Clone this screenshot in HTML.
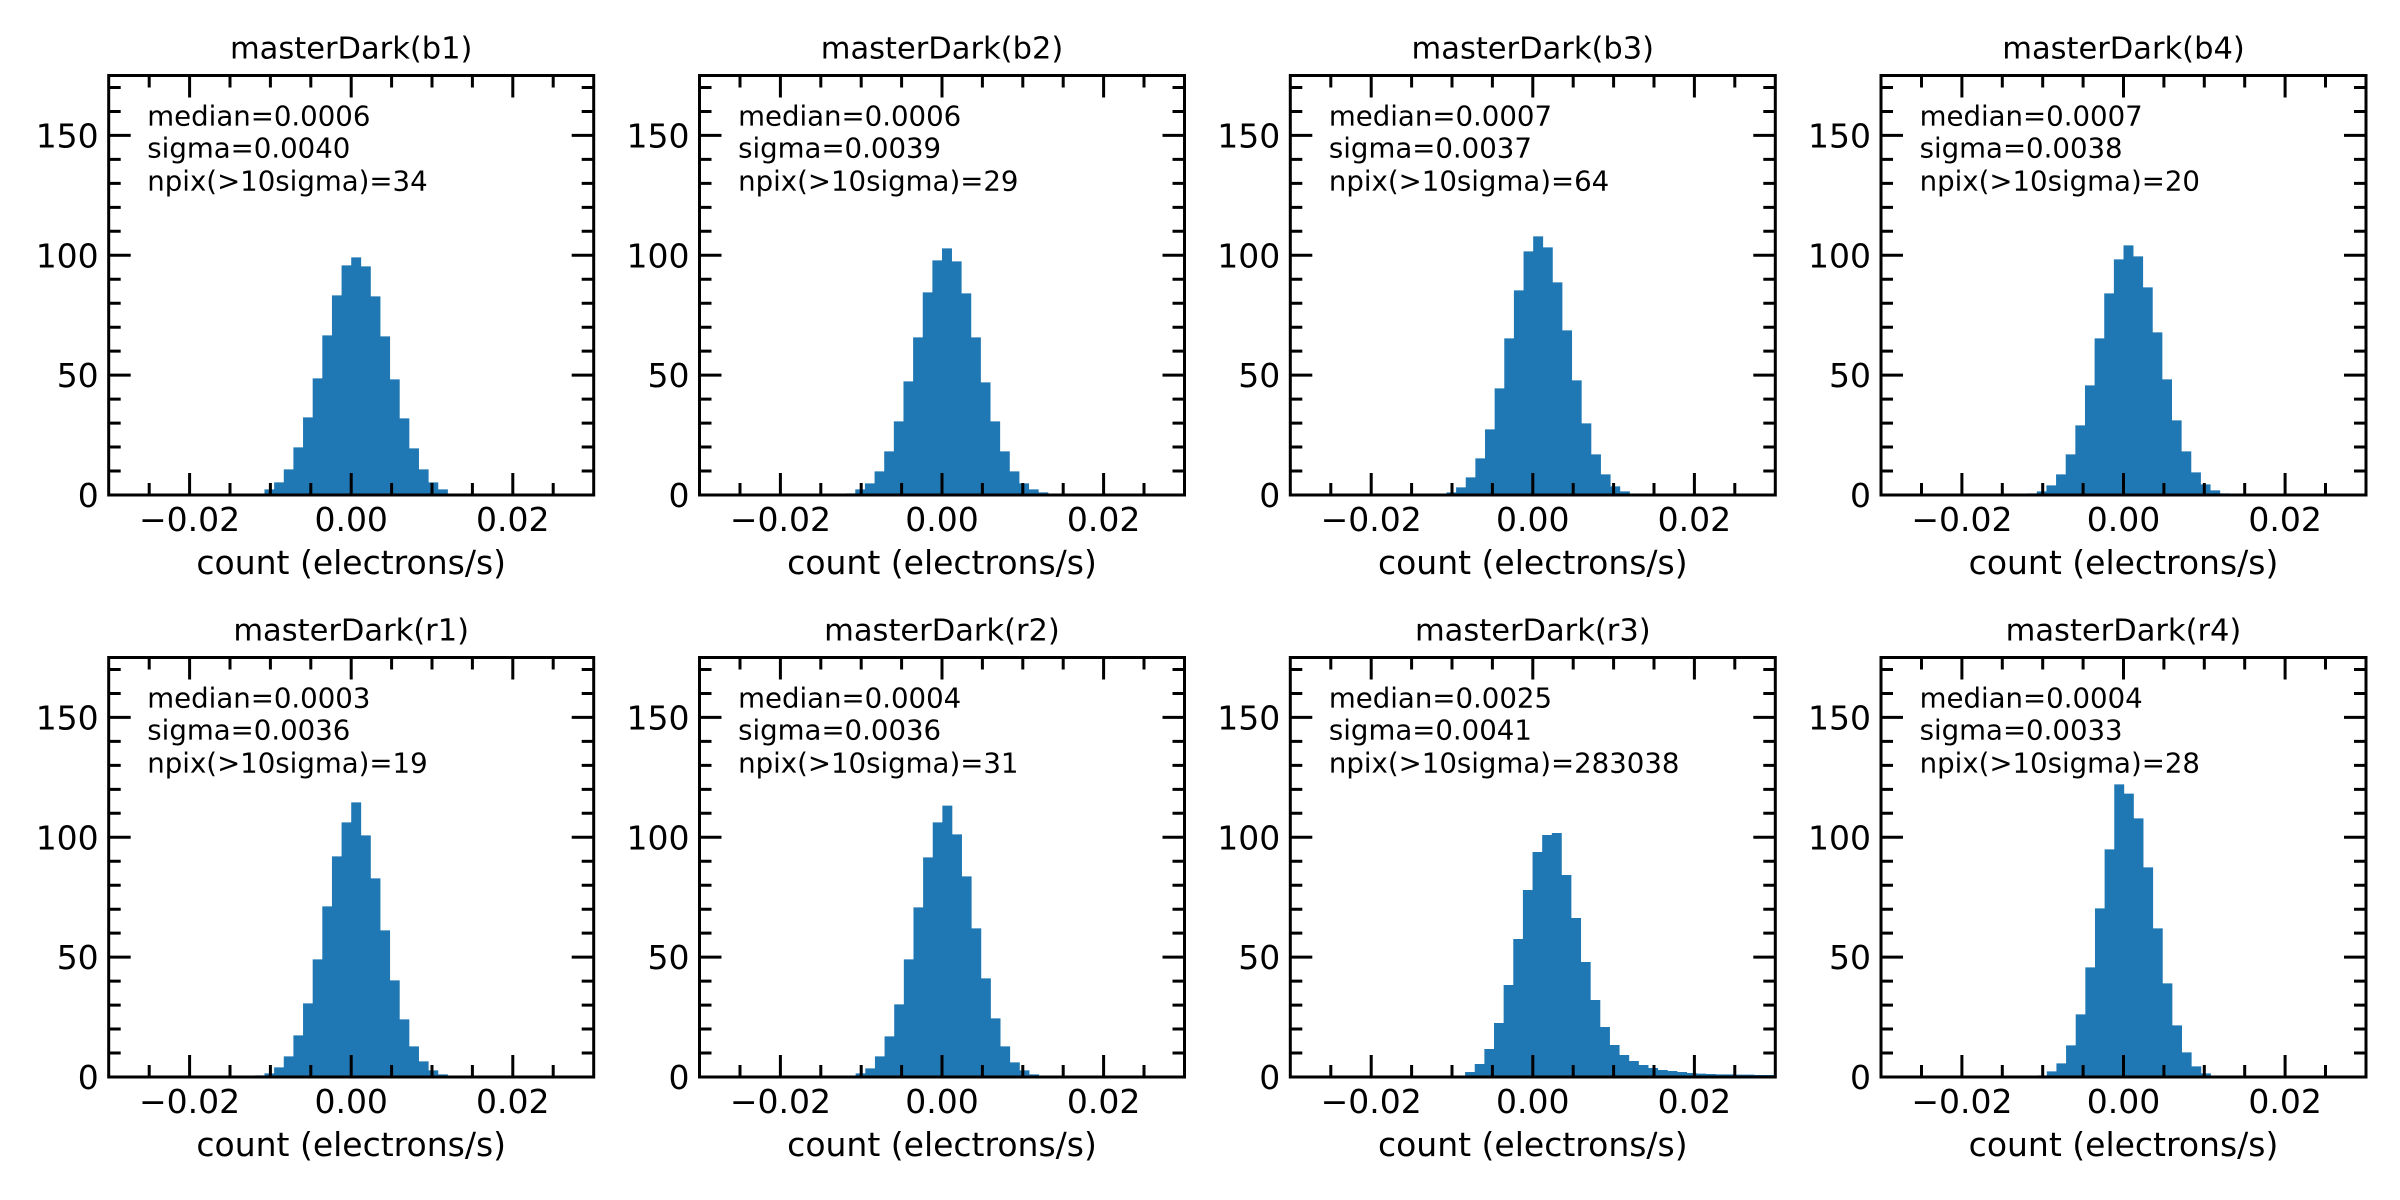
<!DOCTYPE html>
<html><head><meta charset="utf-8">
<style>
html,body{margin:0;padding:0;background:#fff;}
svg{display:block;}
text{font-family:"DejaVu Sans","Liberation Sans",sans-serif;fill:#000;}
</style></head>
<body>
<svg id="s" xmlns="http://www.w3.org/2000/svg" width="2400" height="1200" viewBox="0 0 2400 1200"></svg>
<script>
var NS="http://www.w3.org/2000/svg";
var svg=document.getElementById('s');
function el(t,a,txt){var e=document.createElementNS(NS,t);for(var k in a)e.setAttribute(k,a[k]);if(txt!==undefined)e.textContent=txt;svg.appendChild(e);return e;}
var lefts=[108.7,699.5,1290.3,1881];
var rows=[{top:75.5,bot:495},{top:657.5,bot:1077}];
var W=485,H=419.5,PX=8080,PY=H/175;
var panels=[
 {t:"masterDark(b1)",m:"0.0006",s:"0.0040",n:"34",st:72,z:361,h:[4,17,38,77,143,233,350,479,599,689,713,686,596,476,347,230,140,77,38,17,4]},
 {t:"masterDark(b2)",m:"0.0006",s:"0.0039",n:"29",st:75,z:364,h:[5,17,35,71,131,221,341,473,608,704,740,701,605,473,338,221,131,71,35,17,8]},
 {t:"masterDark(b3)",m:"0.0007",s:"0.0037",n:"64",st:105,z:364,h:[8,23,53,110,197,320,470,614,731,776,743,638,494,344,215,122,62,26,11]},
 {t:"masterDark(b4)",m:"0.0007",s:"0.0038",n:"20",st:75,z:364,h:[5,11,29,62,122,209,329,470,605,707,749,716,623,488,347,224,131,68,32,14,5]},
 {t:"masterDark(r1)",m:"0.0003",s:"0.0036",n:"19",st:72,z:361,h:[5,11,29,62,125,221,353,512,662,764,824,725,596,440,290,173,92,47,20,8]},
 {t:"masterDark(r2)",m:"0.0004",s:"0.0036",n:"31",st:105,z:364,h:[11,26,62,122,218,353,509,659,764,814,728,602,446,296,176,92,44,20,8]},
 {t:"masterDark(r3)",m:"0.0025",s:"0.0041",n:"283038",st:45,z:277,h:[3,15,39,84,162,276,414,561,675,726,732,606,477,345,231,150,96,66,48,36,27,21,18,15,12,10,9,8,8,7,7,6,6,6,6,6,6,6]},
 {t:"masterDark(r4)",m:"0.0004",s:"0.0033",n:"28",st:105,z:364,h:[5,17,41,95,188,329,506,683,878,850,776,629,446,281,155,74,32,11]}
];
var BW=9.635;
panels.forEach(function(p,i){
 var L=lefts[i%4],R=rows[Math.floor(i/4)],T=R.top,B=R.bot;
 var x0=L+W/2;
 var sx=x0+(p.st-p.z)/3, d="";
 p.h.forEach(function(h,j){var hh=h/3;var x=sx+j*BW;var w=BW+0.3;if(x>=L+W)return;if(x+w>L+W)w=L+W-x;d+="M"+x.toFixed(2)+" "+B+"h"+w.toFixed(2)+"v"+(-hh).toFixed(2)+"h"+(-w).toFixed(2)+"z";});
 el('path',{d:d,fill:'#1f77b4'});
 var t="";
 for(var v=-0.03;v<=0.0301;v+=0.005){var x=x0+v*PX;if(x<L+1||x>L+W-1)continue;var maj=Math.abs(Math.round(v*1000)%20)===0;var len=maj?22:12;t+="M"+x.toFixed(2)+" "+B+"v"+(-len)+"M"+x.toFixed(2)+" "+T+"v"+len;}
 for(var yv=0;yv<=175;yv+=10){var y=B-yv*PY;var maj=yv%50===0;var len=maj?22:12;t+="M"+L+" "+y.toFixed(2)+"h"+len+"M"+(L+W)+" "+y.toFixed(2)+"h"+(-len);}
 el('path',{d:t,stroke:'#000','stroke-width':3,fill:'none'});
 el('rect',{x:L,y:T,width:W,height:B-T,fill:'none',stroke:'#000','stroke-width':3});
 [0,50,100,150].forEach(function(yv){var y=B-yv*PY;el('text',{x:L-10,y:(y+12).toFixed(1),'text-anchor':'end','font-size':33},String(yv));});
 [[-0.02,"\u22120.02"],[0,"0.00"],[0.02,"0.02"]].forEach(function(a){el('text',{x:(x0+a[0]*PX).toFixed(1),y:B+36,'text-anchor':'middle','font-size':33},a[1]);});
 el('text',{x:x0,y:B+79,'text-anchor':'middle','font-size':33},"count (electrons/s)");
 el('text',{x:x0,y:T-17,'text-anchor':'middle','font-size':30.5},p.t);
 var ax=L+38.6;
 el('text',{x:ax,y:T+50,'font-size':27.6},"median="+p.m);
 el('text',{x:ax,y:T+82,'font-size':27.6},"sigma="+p.s);
 el('text',{x:ax,y:T+115,'font-size':27.6},"npix(>10sigma)="+p.n);
});
</script>
</body></html>
